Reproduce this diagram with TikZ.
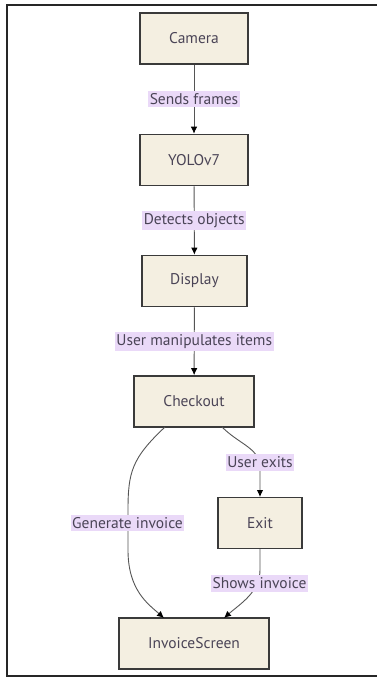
\documentclass[tikz,border=0pt]{standalone}
\usepackage{fontspec}
\setmainfont{PT Sans}
\usetikzlibrary{arrows.meta}
\definecolor{boxfill}{HTML}{F4EFE1}
\definecolor{boxline}{HTML}{3A3A3A}
\definecolor{lblfill}{HTML}{EAD9F8}
\definecolor{txt}{HTML}{4A4456}
\definecolor{edge}{HTML}{555555}
\tikzset{
  stepbox/.style={draw=boxline, line width=1.6pt, fill=boxfill, text=txt,
    minimum width=#1, minimum height=51pt, inner sep=0pt, font=\fontsize{15.5}{18}\selectfont},
  lbl/.style={fill=lblfill, text=txt, inner xsep=1.5pt, inner ysep=2.5pt,
    font=\fontsize{15.5}{18}\selectfont},
  arr/.style={draw=edge, line width=0.9pt, -{Latex[length=7pt,width=6.5pt,color=black]}},
  frame/.style={draw=black!85, line width=2pt}
}
\begin{document}
\begin{tikzpicture}[x=1pt,y=-1pt]
  \useasboundingbox (0,0) rectangle (377,677);
  % outer frame
  \draw[frame] (377,5) -- (7,5) -- (7,676) -- (377,676);

  % process boxes
  \node[stepbox=108pt] (cam)  at (194,38.5)  {Camera};
  \node[stepbox=108pt] (yolo) at (194,160)   {YOLOv7};
  \node[stepbox=105pt] (disp) at (194.5,281) {Display};
  \node[stepbox=120pt] (chk)  at (194,401.5) {Checkout};
  \node[stepbox=84pt]  (exit) at (260,523)   {Exit};
  \node[stepbox=150pt] (inv)  at (194,643.5) {InvoiceScreen};

  % straight flow
  \draw[arr] (cam) -- node[lbl] {Sends frames} (yolo);
  \draw[arr] (yolo) -- node[lbl] {Detects objects} (disp);
  \draw[arr] (disp) -- node[lbl] {User manipulates items} (chk);

  % branches out of checkout
  \coordinate (chkL) at (165,427);
  \coordinate (chkR) at (222,427);
  \coordinate (invL) at (164,618);
  \coordinate (invR) at (224,618);
  \coordinate (exitT) at (260,497);
  \coordinate (exitB) at (260,549);

  \draw[arr] (chkL) .. controls (132,458) and (128,472) .. (128,510)
    -- (128,550) .. controls (128,590) and (148,604) .. (invL);
  \node[lbl] (lgen) at (127.5,523) {Generate invoice};

  \draw[arr] (chkR) .. controls (240,445) and (260,448) .. (260,468) -- (exitT);
  \node[lbl] (lexit) at (260,462.5) {User exits};

  \draw[arr] (exitB) -- (260,570) .. controls (260,592) and (240,604) .. (invR);
  \node[lbl] (lshow) at (259.5,583.5) {Shows invoice};
\end{tikzpicture}
\end{document}
